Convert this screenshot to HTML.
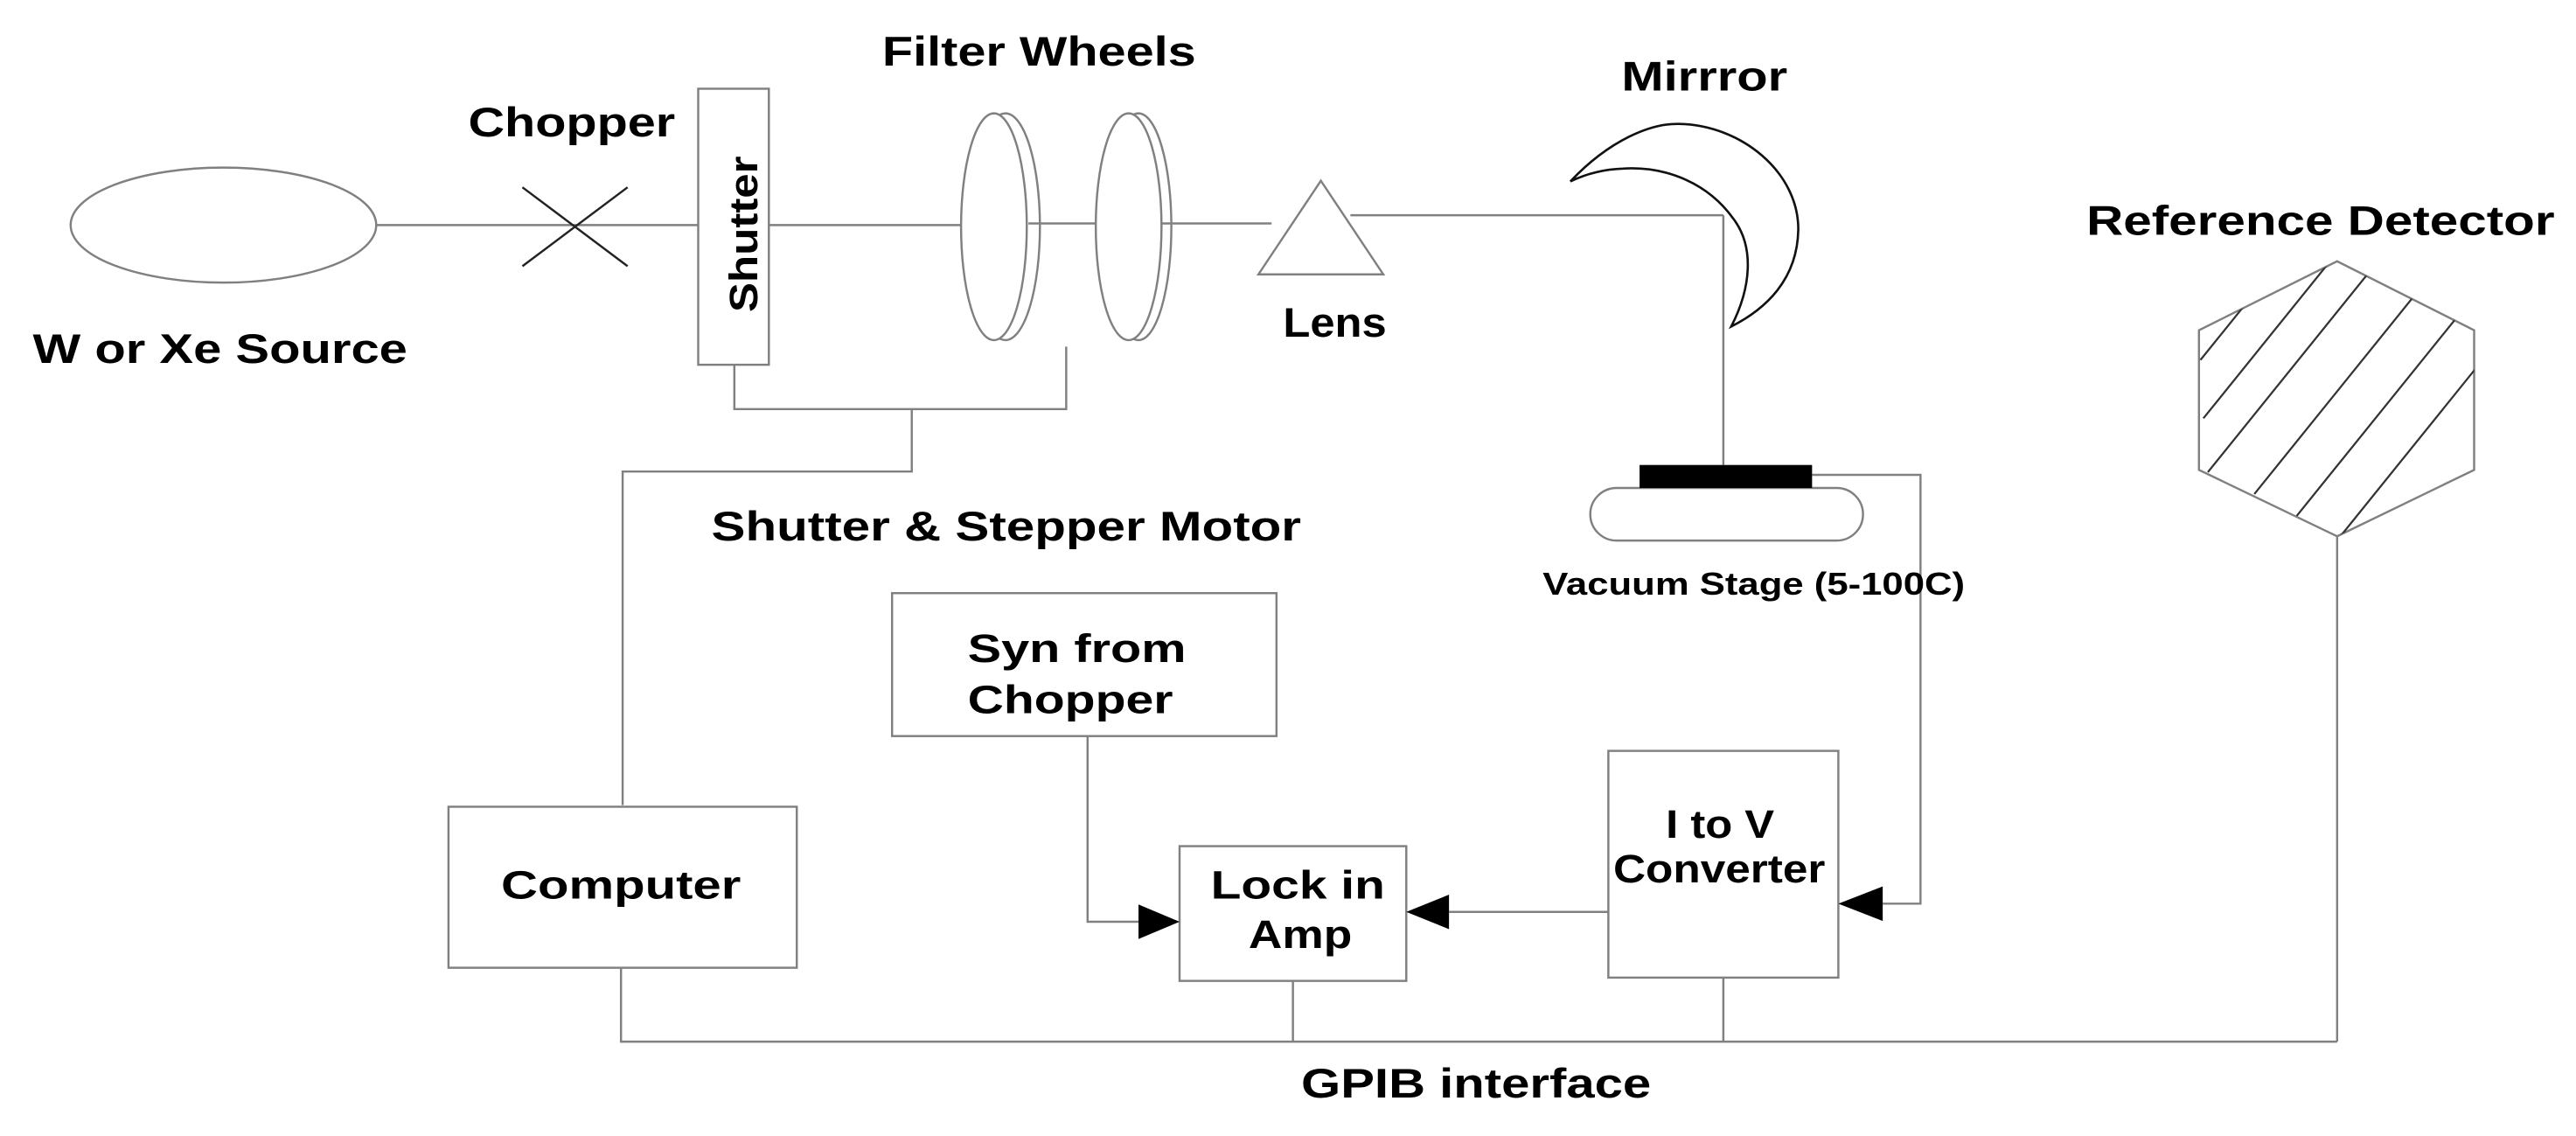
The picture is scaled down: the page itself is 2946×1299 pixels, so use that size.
<!DOCTYPE html>
<html><head><meta charset="utf-8"><style>
html,body{margin:0;padding:0;background:#fff;}
svg{display:block;}
text{font-family:"Liberation Sans Narrow","Liberation Sans",sans-serif;font-weight:bold;fill:#000;}
</style></head><body>
<svg width="2946" height="1299" viewBox="0 0 1568 691.4" preserveAspectRatio="none" xmlns="http://www.w3.org/2000/svg">
<defs>
<clipPath id="hex"><polygon points="1422.6,159 1506,201 1506,286 1422.6,326.4 1338.5,286 1338.5,201"/></clipPath>
</defs>
<g fill="none" stroke="#808080" stroke-width="1.3">
<ellipse cx="136" cy="137" rx="93" ry="35" fill="#fff"/>
<line x1="229" y1="137" x2="425" y2="137"/>
<rect x="425" y="54" width="43" height="168" fill="#fff"/>
<line x1="468" y1="137" x2="585" y2="137"/>
<ellipse cx="612" cy="138" rx="21" ry="69" fill="#fff"/>
<ellipse cx="605" cy="138" rx="20" ry="69" fill="#fff"/>
<line x1="626" y1="136" x2="667" y2="136"/>
<ellipse cx="693" cy="138" rx="20" ry="69" fill="#fff"/>
<ellipse cx="687" cy="138" rx="20" ry="69" fill="#fff"/>
<line x1="707" y1="136" x2="774" y2="136"/>
<polygon points="804,110 842,167 766,167" fill="#fff"/>
<line x1="822" y1="131" x2="1049" y2="131"/>
<line x1="1049" y1="131" x2="1049" y2="283"/>
<polyline points="447,222 447,249 649,249 649,211"/>
<polyline points="555,249 555,287 379,287 379,490"/>
<rect x="968" y="297" width="166" height="32" rx="16" ry="16" fill="#fff"/>
<polyline points="1103,289 1169,289 1169,550 1146,550"/>
<polygon points="1422.6,159 1506,201 1506,286 1422.6,326.4 1338.5,286 1338.5,201" fill="#fff"/>
<line x1="1422.6" y1="326" x2="1422.6" y2="634"/>
<rect x="273" y="491" width="212" height="98" fill="#fff"/>
<rect x="543" y="361" width="234" height="87" fill="#fff"/>
<rect x="718" y="515" width="138" height="82" fill="#fff"/>
<rect x="979" y="457" width="140" height="138" fill="#fff"/>
<polyline points="662,448 662,561 694,561"/>
<line x1="882" y1="555" x2="979" y2="555"/>
<polyline points="378,589 378,634 1422.6,634"/>
<line x1="787" y1="597" x2="787" y2="634"/>
<line x1="1049" y1="595" x2="1049" y2="634"/>
</g>
<g clip-path="url(#hex)" stroke="#333" stroke-width="1.2">
<line x1="1339.4" y1="219.1" x2="1489.4" y2="33.1"/>
<line x1="1341.2" y1="254.6" x2="1491.2" y2="68.6"/>
<line x1="1343.9" y1="287.4" x2="1493.9" y2="101.4"/>
<line x1="1372.2" y1="300.7" x2="1522.2" y2="114.7"/>
<line x1="1398.0" y1="314.0" x2="1548.0" y2="128.0"/>
<line x1="1424.6" y1="326.4" x2="1574.6" y2="140.4"/>
</g>
<g stroke="#222" stroke-width="1.3">
<line x1="318" y1="114" x2="382" y2="162"/>
<line x1="382" y1="114" x2="318" y2="162"/>
</g>
<path d="M955.9,110.4 C980,85 1005,75 1022,75.4 C1060,76 1095,105 1094.6,140 C1094,170 1075,188 1053.8,198.7 C1066,175 1068,150 1055,133 C1040,112 1015,101 988,102.6 C975,103 965,106 955.9,110.4 Z" fill="#fff" stroke="#111" stroke-width="1.4"/>
<rect x="998" y="283" width="105" height="14" fill="#000"/>
<polygon points="718,561 693,550.5 693,571.5" fill="#000"/>
<polygon points="856,555 882,544.5 882,565.5" fill="#000"/>
<polygon points="1119,550 1146,539.5 1146,560.5" fill="#000"/>
<text x="285" y="83" font-size="25" textLength="126" lengthAdjust="spacingAndGlyphs">Chopper</text>
<text x="537" y="40" font-size="25" textLength="191" lengthAdjust="spacingAndGlyphs">Filter Wheels</text>
<text x="987" y="55" font-size="25" textLength="101" lengthAdjust="spacingAndGlyphs">Mirrror</text>
<text x="20" y="221" font-size="25" textLength="228" lengthAdjust="spacingAndGlyphs">W or Xe Source</text>
<text x="781" y="205" font-size="25" textLength="63" lengthAdjust="spacingAndGlyphs">Lens</text>
<text x="1270" y="143" font-size="25" textLength="285" lengthAdjust="spacingAndGlyphs">Reference Detector</text>
<text x="433" y="329" font-size="25" textLength="359" lengthAdjust="spacingAndGlyphs">Shutter &amp; Stepper Motor</text>
<text x="939" y="362" font-size="19" textLength="257" lengthAdjust="spacingAndGlyphs">Vacuum Stage (5-100C)</text>
<text transform="translate(461,190) rotate(-90)" font-size="24" style="font-family:'Liberation Sans',sans-serif" textLength="95" lengthAdjust="spacingAndGlyphs">Shutter</text>
<text x="305" y="547" font-size="24" textLength="146" lengthAdjust="spacingAndGlyphs">Computer</text>
<text x="589" y="403" font-size="24" textLength="133" lengthAdjust="spacingAndGlyphs">Syn from</text>
<text x="589" y="434" font-size="24" textLength="125" lengthAdjust="spacingAndGlyphs">Chopper</text>
<text x="737" y="547" font-size="24" textLength="106" lengthAdjust="spacingAndGlyphs">Lock in</text>
<text x="760" y="577" font-size="24" textLength="63" lengthAdjust="spacingAndGlyphs">Amp</text>
<text x="1014" y="510" font-size="24" textLength="66" lengthAdjust="spacingAndGlyphs">I to V</text>
<text x="982" y="537" font-size="24" textLength="129" lengthAdjust="spacingAndGlyphs">Converter</text>
<text x="792" y="668" font-size="25" textLength="213" lengthAdjust="spacingAndGlyphs">GPIB interface</text>
</svg>
</body></html>
